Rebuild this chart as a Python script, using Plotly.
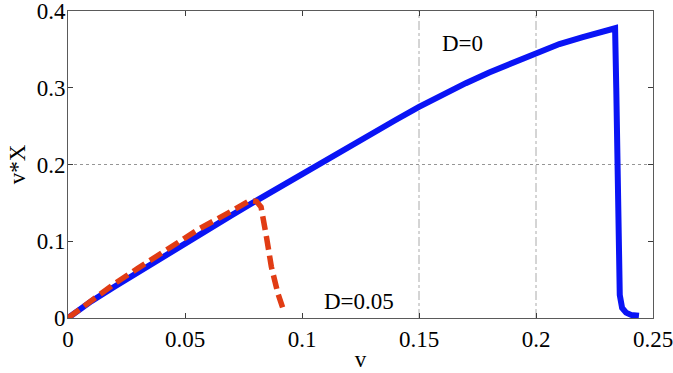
import plotly.graph_objects as go

# D = 0 curve (blue, solid)
v_d0 = [0, 0.005, 0.01, 0.02, 0.03, 0.04, 0.05, 0.06, 0.07, 0.08, 0.09, 0.10,
        0.11, 0.12, 0.13, 0.14, 0.15, 0.16, 0.17, 0.18, 0.19, 0.20, 0.21,
        0.22, 0.23, 0.2338, 0.2343, 0.2348, 0.2352, 0.2358, 0.2368, 0.2385, 0.2406, 0.244]
y_d0 = [0, 0.012, 0.022, 0.041, 0.060, 0.078, 0.097, 0.116, 0.134, 0.152, 0.170, 0.188,
        0.205, 0.222, 0.240, 0.258, 0.275, 0.291, 0.306, 0.320, 0.333, 0.346, 0.357,
        0.366, 0.373, 0.3775, 0.30, 0.20, 0.06, 0.03, 0.013, 0.007, 0.004, 0.003]

# D = 0.05 curve (red, dashed)
v_d05 = [0, 0.01, 0.02, 0.03, 0.04, 0.0464, 0.056, 0.0704, 0.0777, 0.0805, 0.0825,
         0.0848, 0.0869, 0.0897, 0.0917]
y_d05 = [0, 0.023, 0.045, 0.065, 0.085, 0.097, 0.116, 0.140, 0.153, 0.152, 0.1446,
         0.106, 0.0667, 0.032, 0.014]

x_ticks = [0, 0.05, 0.1, 0.15, 0.2, 0.25]
y_ticks = [0, 0.1, 0.2, 0.3, 0.4]
grid_x = [0.15, 0.2]
grid_y = [0.2]

labels = [("D=0", 0.1685, 0.358), ("D=0.05", 0.1245, 0.021)]

FONT = "Liberation Serif"

fig = go.Figure()
fig.add_trace(go.Scatter(x=v_d0, y=y_d0, mode="lines",
                         line=dict(color="rgb(10,20,245)", width=6),
                         showlegend=False, cliponaxis=False))
fig.add_trace(go.Scatter(x=v_d05, y=y_d05, mode="lines",
                         line=dict(color="rgb(225,60,20)", width=5.5, dash="14px,6px"),
                         showlegend=False, cliponaxis=False))

shapes = []
for gx in grid_x:
    shapes.append(dict(type="line", xref="x", yref="paper", x0=gx, x1=gx, y0=0, y1=1,
                       line=dict(color="rgb(170,170,170)", width=1, dash="dashdot"),
                       layer="below"))
for gy in grid_y:
    shapes.append(dict(type="line", xref="paper", yref="y", x0=0, x1=1, y0=gy, y1=gy,
                       line=dict(color="rgb(150,150,150)", width=1, dash="dot"),
                       layer="below"))

annotations = [dict(text=t, x=x, y=y, xref="x", yref="y", showarrow=False,
                    font=dict(family=FONT, size=23, color="black"))
               for t, x, y in labels]

axis_common = dict(showline=True, linecolor="rgb(90,90,90)", linewidth=1, mirror="ticks",
                   ticks="inside", ticklen=5, tickcolor="rgb(60,60,60)", showgrid=False,
                   zeroline=False, automargin=False, ticklabeloverflow="allow",
                   tickfont=dict(family=FONT, size=23, color="black"))

fig.update_layout(
    width=673, height=373,
    margin=dict(l=68, r=20, t=11, b=55),
    paper_bgcolor="white", plot_bgcolor="white",
    xaxis=dict(range=[0, 0.25], tickvals=x_ticks, ticktext=[str(t) for t in x_ticks],
               ticklabelstandoff=0,
               title=dict(text="v", font=dict(family=FONT, size=23, color="black"), standoff=0),
               **axis_common),
    yaxis=dict(range=[0, 0.40001], tickvals=y_ticks, ticktext=[str(t) for t in y_ticks],
               ticklabelstandoff=-3,
               title=dict(text="v*X", font=dict(family=FONT, size=23, color="black"), standoff=4),
               **axis_common),
    shapes=shapes,
    annotations=annotations,
)

fig.write_html("out.html", config={"displayModeBar": False},
               post_script="document.body.style.margin='0';")
